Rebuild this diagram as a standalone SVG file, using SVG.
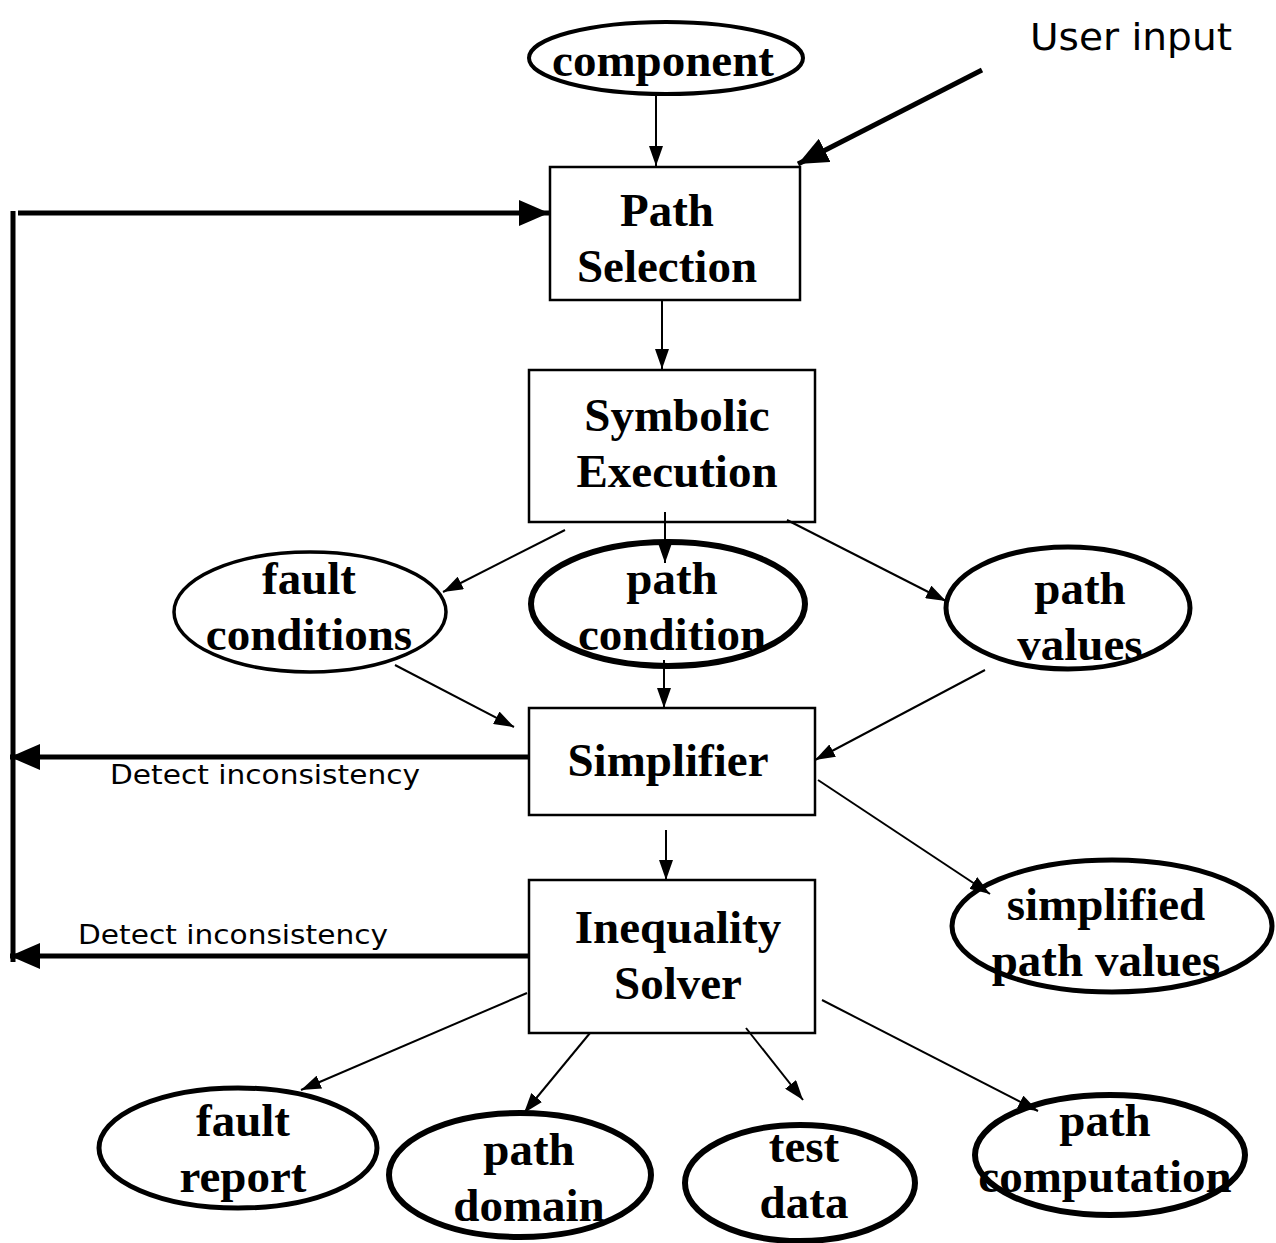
<svg xmlns="http://www.w3.org/2000/svg" width="1276" height="1243" viewBox="0 0 1276 1243">
  <defs>
    <marker id="arrow" viewBox="0 0 20 14" refX="20" refY="7" markerWidth="20" markerHeight="14" markerUnits="userSpaceOnUse" orient="auto">
      <path d="M0,0 L20,7 L0,14 Z" fill="#000"/>
    </marker>
    <marker id="arrow-bold" viewBox="0 0 30 26" refX="30" refY="13" markerWidth="30" markerHeight="26" markerUnits="userSpaceOnUse" orient="auto">
      <path d="M0,0 L30,13 L0,26 Z" fill="#000"/>
    </marker>
  </defs>
  <style>
    .box { fill: #fff; stroke: #000; stroke-width: 2.5; }
    .oval { fill: #fff; stroke: #000; }
    .label { font-family: "Liberation Serif", "Times New Roman", serif; font-weight: bold; font-size: 47px; text-anchor: middle; fill: #000; }
    .note { font-family: "DejaVu Sans", "Liberation Sans", sans-serif; fill: #000; }
    .thin { stroke: #000; stroke-width: 2; fill: none; marker-end: url(#arrow); }
    .thick { stroke: #000; stroke-width: 5; fill: none; }
  </style>
  <rect width="1276" height="1243" fill="#fff"/>

  <g id="component">
    <ellipse class="oval" cx="666" cy="58" rx="137" ry="36" stroke-width="4"/>
    <text class="label" x="663" y="76">component</text>
  </g>

  <g id="path-selection">
    <rect class="box" x="550" y="167" width="250" height="133"/>
    <text class="label" x="667" y="226">Path</text>
    <text class="label" x="667" y="282">Selection</text>
  </g>

  <g id="symbolic-execution">
    <rect class="box" x="529" y="370" width="286" height="152"/>
    <text class="label" x="677" y="431">Symbolic</text>
    <text class="label" x="677" y="487">Execution</text>
  </g>

  <g id="fault-conditions">
    <ellipse class="oval" cx="310" cy="612" rx="136" ry="60" stroke-width="3.5"/>
    <text class="label" x="309" y="594">fault</text>
    <text class="label" x="309" y="650">conditions</text>
  </g>

  <g id="path-condition">
    <ellipse class="oval" cx="668" cy="604" rx="137" ry="62" stroke-width="6"/>
    <text class="label" x="672" y="594">path</text>
    <text class="label" x="672" y="650">condition</text>
  </g>

  <g id="path-values">
    <ellipse class="oval" cx="1068" cy="608" rx="122" ry="61" stroke-width="5"/>
    <text class="label" x="1080" y="604">path</text>
    <text class="label" x="1080" y="660">values</text>
  </g>

  <g id="simplifier">
    <rect class="box" x="529" y="708" width="286" height="107"/>
    <text class="label" x="668" y="776">Simplifier</text>
  </g>

  <g id="simplified-path-values">
    <ellipse class="oval" cx="1112" cy="926" rx="160" ry="66" stroke-width="5"/>
    <text class="label" x="1106" y="920">simplified</text>
    <text class="label" x="1106" y="976">path values</text>
  </g>

  <g id="inequality-solver">
    <rect class="box" x="529" y="880" width="286" height="153"/>
    <text class="label" x="678" y="943">Inequality</text>
    <text class="label" x="678" y="999">Solver</text>
  </g>

  <g id="fault-report">
    <ellipse class="oval" cx="238" cy="1148" rx="139" ry="60" stroke-width="5"/>
    <text class="label" x="243" y="1136">fault</text>
    <text class="label" x="243" y="1192">report</text>
  </g>

  <g id="path-domain">
    <ellipse class="oval" cx="520" cy="1175" rx="131" ry="62" stroke-width="6"/>
    <text class="label" x="529" y="1165">path</text>
    <text class="label" x="529" y="1221">domain</text>
  </g>

  <g id="test-data">
    <ellipse class="oval" cx="800" cy="1183" rx="115" ry="58" stroke-width="6"/>
    <text class="label" x="804" y="1162">test</text>
    <text class="label" x="804" y="1218">data</text>
  </g>

  <g id="path-computation">
    <ellipse class="oval" cx="1110" cy="1155" rx="135" ry="60" stroke-width="6"/>
    <text class="label" x="1105" y="1136">path</text>
    <text class="label" x="1105" y="1192">computation</text>
  </g>

  <!-- connectors, drawn over the nodes so heads overlap the outlines -->
  <g id="connectors">
    <line class="thin" x1="656" y1="95" x2="656" y2="166"/>
    <line class="thick" x1="982" y1="70" x2="798" y2="164" marker-end="url(#arrow-bold)"/>
    <line class="thin" x1="662" y1="300" x2="662" y2="369"/>
    <line class="thin" x1="565" y1="530" x2="443" y2="592"/>
    <line class="thin" x1="665" y1="512" x2="665" y2="563"/>
    <line class="thin" x1="787" y1="520" x2="946" y2="601"/>
    <line class="thin" x1="395" y1="665" x2="514" y2="727"/>
    <line class="thin" x1="664" y1="660" x2="664" y2="708"/>
    <line class="thin" x1="985" y1="670" x2="815" y2="760"/>
    <line class="thin" x1="818" y1="780" x2="990" y2="894"/>
    <line class="thin" x1="666" y1="830" x2="666" y2="880"/>
    <line class="thin" x1="527" y1="993" x2="301" y2="1090"/>
    <line class="thin" x1="590" y1="1033" x2="524" y2="1113"/>
    <line class="thin" x1="746" y1="1028" x2="803" y2="1100"/>
    <line class="thin" x1="822" y1="1000" x2="1038" y2="1111"/>
    <!-- feedback loop -->
    <line class="thick" x1="13" y1="211" x2="13" y2="962" stroke-width="4"/>
    <line class="thick" x1="18" y1="213" x2="549" y2="213" marker-end="url(#arrow-bold)"/>
    <line class="thick" x1="529" y1="757" x2="10" y2="757" marker-end="url(#arrow-bold)"/>
    <line class="thick" x1="529" y1="956" x2="10" y2="956" marker-end="url(#arrow-bold)"/>
    <text class="note" x="110" y="784" font-size="26" textLength="310" lengthAdjust="spacingAndGlyphs">Detect inconsistency</text>
    <text class="note" x="78" y="944" font-size="26" textLength="310" lengthAdjust="spacingAndGlyphs">Detect inconsistency</text>
    <text class="note" x="1030" y="50" font-size="38" textLength="202" lengthAdjust="spacingAndGlyphs">User input</text>
  </g>
</svg>
